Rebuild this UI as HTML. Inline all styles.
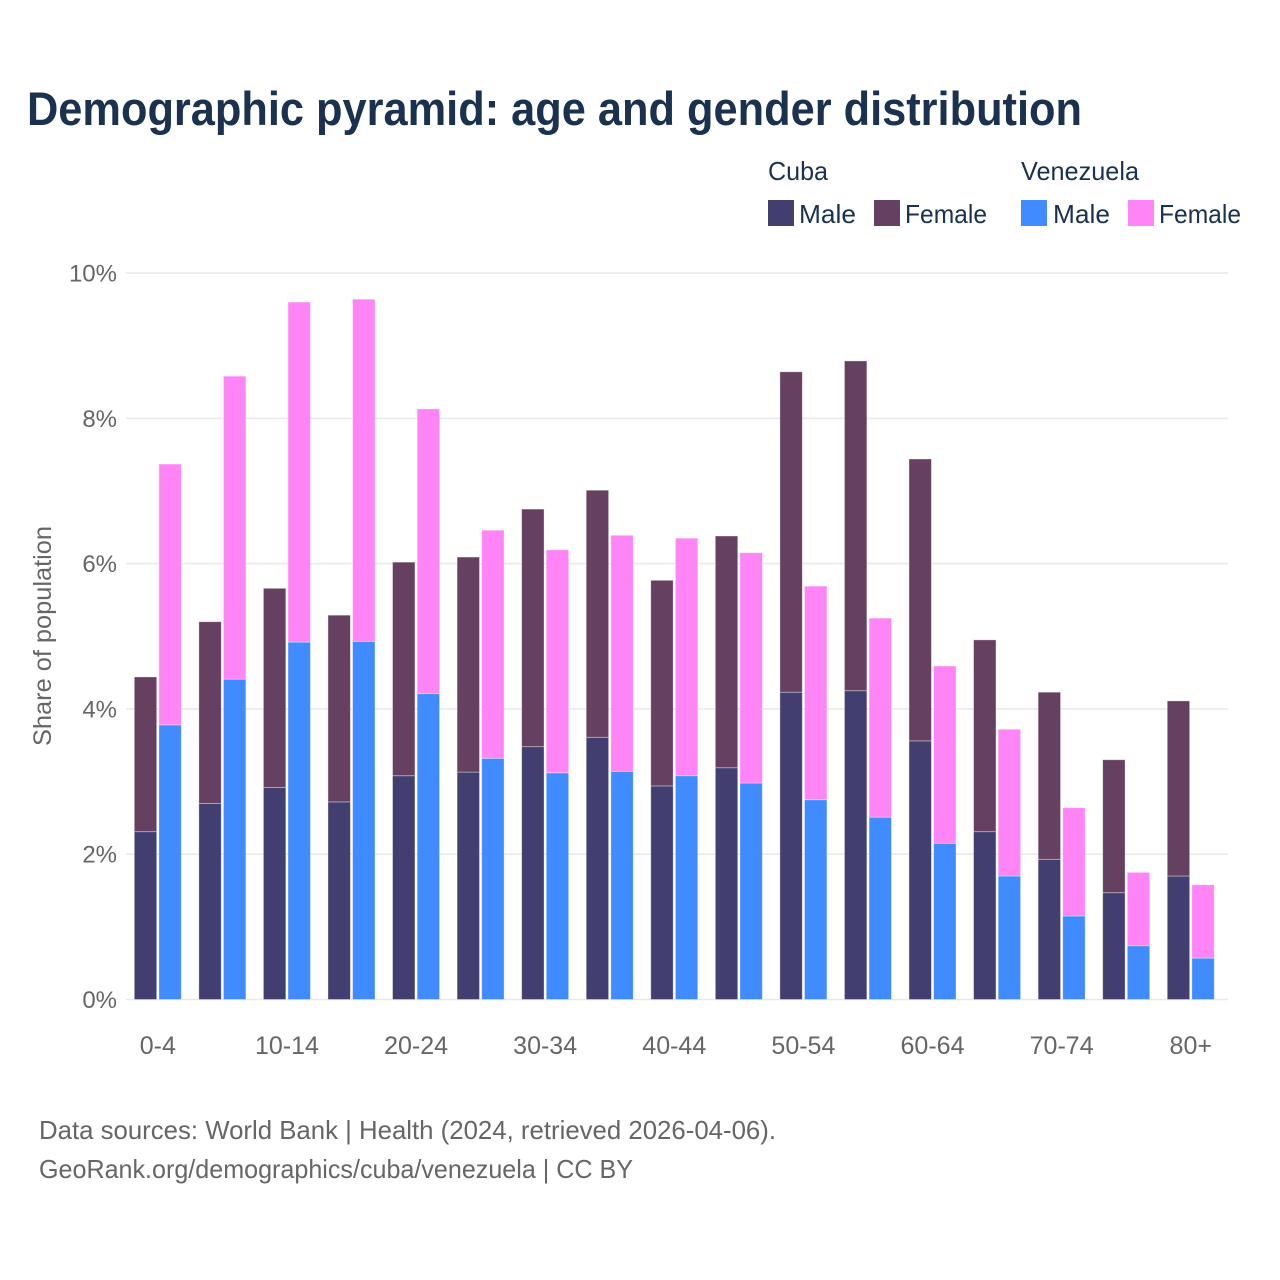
<!DOCTYPE html>
<html lang="en">
<head>
<meta charset="utf-8">
<title>Demographic pyramid: age and gender distribution</title>
<style>
html,body{margin:0;padding:0;background:#fff;}
svg{display:block;font-family:"Liberation Sans",sans-serif;}
</style>
</head>
<body>
<svg id="chart" width="1280" height="1280" viewBox="0 0 1280 1280" xmlns="http://www.w3.org/2000/svg">
  <rect x="0" y="0" width="1280" height="1280" fill="#ffffff"/>
  <text x="27" y="125" font-size="47" font-weight="700" fill="#1a3150" textLength="1055" lengthAdjust="spacingAndGlyphs">Demographic pyramid: age and gender distribution</text>

  <g font-size="26" fill="#1a3150">
    <text x="768" y="180" textLength="60" lengthAdjust="spacingAndGlyphs">Cuba</text>
    <text x="1021" y="180" textLength="118" lengthAdjust="spacingAndGlyphs">Venezuela</text>
    <rect x="768" y="200" width="26" height="26" fill="#423e70"/>
    <text x="799" y="223" textLength="57" lengthAdjust="spacingAndGlyphs">Male</text>
    <rect x="874" y="200" width="26" height="26" fill="#664060"/>
    <text x="905" y="223" textLength="82" lengthAdjust="spacingAndGlyphs">Female</text>
    <rect x="1021" y="200" width="26" height="26" fill="#3f8bff"/>
    <text x="1053" y="223" textLength="57" lengthAdjust="spacingAndGlyphs">Male</text>
    <rect x="1128" y="200" width="26" height="26" fill="#ff85f7"/>
    <text x="1159" y="223" textLength="82" lengthAdjust="spacingAndGlyphs">Female</text>
  </g>

  <g id="grid"></g>
  <g id="bars"></g>
  <g id="y-ticks"></g>
  <g id="x-ticks"></g>

  <text transform="translate(51,636) rotate(-90)" text-anchor="middle" font-size="25" fill="#666666" textLength="220" lengthAdjust="spacingAndGlyphs">Share of population</text>

  <text x="39" y="1139" font-size="26" fill="#666666" textLength="737" lengthAdjust="spacingAndGlyphs">Data sources: World Bank | Health (2024, retrieved 2026-04-06).</text>
  <text x="39" y="1178" font-size="26" fill="#666666" textLength="594" lengthAdjust="spacingAndGlyphs">GeoRank.org/demographics/cuba/venezuela | CC BY</text>
</svg>
<script>
const categories = ["0-4","5-9","10-14","15-19","20-24","25-29","30-34","35-39","40-44","45-49","50-54","55-59","60-64","65-69","70-74","75-79","80+"];
const cubaMale = [2.31,2.70,2.92,2.72,3.08,3.13,3.48,3.61,2.94,3.19,4.23,4.25,3.56,2.31,1.93,1.47,1.70];
const cubaFemale = [2.13,2.50,2.74,2.57,2.94,2.96,3.27,3.40,2.83,3.19,4.41,4.54,3.88,2.64,2.30,1.83,2.41];
const venezuelaMale = [3.78,4.41,4.92,4.93,4.21,3.32,3.12,3.14,3.08,2.98,2.75,2.51,2.15,1.70,1.15,0.74,0.57];
const venezuelaFemale = [3.59,4.17,4.68,4.71,3.92,3.14,3.07,3.25,3.27,3.17,2.94,2.74,2.44,2.02,1.49,1.01,1.01];
const yTickValues = [0,2,4,6,8,10];
const yTickLabels = ["0%","2%","4%","6%","8%","10%"];

const NS = "http://www.w3.org/2000/svg";
const plotLeft = 126, plotRight = 1228, yZero = 999.5, pxPerUnit = 72.65;
const firstBar = 134.3, step = 64.56, barWidth = 22.4, barGap = 2.2;
function yScale(v){ return yZero - v * pxPerUnit; }
function xScale(i, slot){ return firstBar + i * step + slot * (barWidth + barGap); }

const grid = document.getElementById("grid");
yTickValues.forEach(function(v, i){
  const line = document.createElementNS(NS, "line");
  
  
  line.setAttribute("x1", plotLeft);
  line.setAttribute("x2", plotRight);
  line.setAttribute("y1", yScale(v));
  line.setAttribute("y2", yScale(v));
  line.setAttribute("stroke", "#e9e9ec");
  line.setAttribute("stroke-width", "1.6");
  grid.appendChild(line);
});

const yTicks = document.getElementById("y-ticks");
yTickValues.forEach(function(v, i){
  const t = document.createElementNS(NS, "text");
  
  
  t.setAttribute("x", 117);
  t.setAttribute("y", yScale(v) + 8.5);
  t.setAttribute("text-anchor", "end");
  t.setAttribute("font-size", "24");
  t.setAttribute("fill", "#666666");
  t.textContent = yTickLabels[i];
  yTicks.appendChild(t);
});

const xTicks = document.getElementById("x-ticks");
categories.forEach(function(c, i){
  if (i % 2 !== 0) return;
  const t = document.createElementNS(NS, "text");
  
  
  t.setAttribute("x", xScale(i, 0) + barWidth + barGap / 2);
  t.setAttribute("y", 1054);
  t.setAttribute("text-anchor", "middle");
  t.setAttribute("font-size", "25");
  t.setAttribute("fill", "#666666");
  t.textContent = c;
  xTicks.appendChild(t);
});

const bars = document.getElementById("bars");
function drawBar(i, slot, base, value, fill){
  const r = document.createElementNS(NS, "rect");
  
  
  r.setAttribute("x", xScale(i, slot));
  r.setAttribute("y", yScale(base + value));
  r.setAttribute("width", barWidth);
  r.setAttribute("height", value * pxPerUnit);
  r.setAttribute("fill", fill);
  r.setAttribute("stroke", "#ffffff");
  r.setAttribute("stroke-opacity", "0.45");
  r.setAttribute("stroke-width", "0.8");
  bars.appendChild(r);
}
categories.forEach(function(c, i){
  drawBar(i, 0, 0, cubaMale[i], "#423e70");
  drawBar(i, 0, cubaMale[i], cubaFemale[i], "#664060");
  drawBar(i, 1, 0, venezuelaMale[i], "#3f8bff");
  drawBar(i, 1, venezuelaMale[i], venezuelaFemale[i], "#ff85f7");
});
</script>
</body>
</html>
